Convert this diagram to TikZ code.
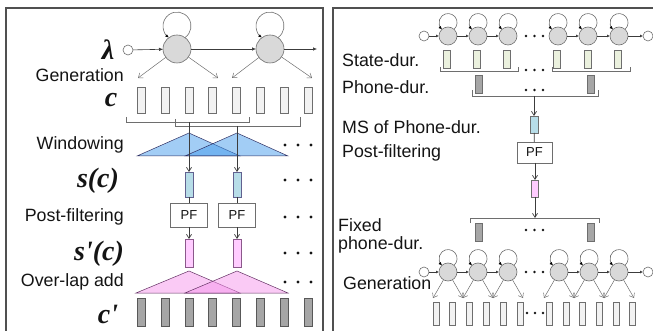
\documentclass[tikz,border=0pt]{standalone}
\usepackage{fontspec}
\setmainfont{Liberation Sans}
\newfontfamily\mathserif{Liberation Serif}
\usetikzlibrary{arrows.meta}

\definecolor{frm}{RGB}{80,80,80}
\definecolor{ln}{RGB}{60,60,60}
\definecolor{txt}{RGB}{20,20,20}
\definecolor{stfill}{RGB}{217,217,217}
\definecolor{stdraw}{RGB}{110,110,110}
\definecolor{lightbox}{RGB}{242,242,242}
\definecolor{darkbox}{RGB}{166,166,166}
\definecolor{bluebox}{RGB}{183,221,232}
\definecolor{pinkbox}{RGB}{255,204,255}
\definecolor{durbox}{RGB}{235,241,222}
\definecolor{triblue}{RGB}{70,155,235}
\definecolor{tripink}{RGB}{245,150,235}

\newcommand\lblfont{\fontsize{17.8}{20}\selectfont}
\newcommand\mlblfont{\fontsize{28}{30}\mathserif\bfseries\itshape}
% self-transition loop on top of a state node: node, loop radius, border angle
\newcommand\hmmloop[3]{\draw[loopln] (#1.#3) arc[start angle=#3, end angle={-180-#3}, radius=#2];}
% three dots in a row: x, y, spacing, radius
\newcommand\dotrow[4]{\foreach \k in {0,1,2} \fill[txt] ({#1+#3*\k},#2) circle[radius=#4];}

\begin{document}
\begin{tikzpicture}[x=1pt,y=-1pt,
  lbl/.style={font=\lblfont,inner sep=0pt,text=txt},
  mlbl/.style={font=\mlblfont,inner sep=0pt,text=txt,anchor=base},
  bigstate/.style={circle,draw=stdraw,fill=stfill,line width=0.6pt,minimum size=28pt,inner sep=0pt,outer sep=0pt},
  smstate/.style={bigstate,minimum size=18pt},
  endstate/.style={circle,draw=stdraw,fill=white,line width=0.6pt,minimum size=10pt,inner sep=0pt,outer sep=0pt},
  vec/.style={rectangle,draw=stdraw,line width=0.6pt,inner sep=0pt,outer sep=0pt},
  lightvec/.style={vec,fill=lightbox,minimum width=8pt,minimum height=26pt},
  darkvec/.style={vec,fill=darkbox,draw=stdraw!80!black,minimum width=8pt,minimum height=28pt},
  bluevec/.style={vec,fill=bluebox,draw=stdraw!70!blue!60!gray,minimum width=8pt,minimum height=25pt},
  pinkvec/.style={vec,fill=pinkbox,draw=stdraw!80!magenta,minimum width=8pt,minimum height=28pt},
  pfbox/.style={rectangle,draw=stdraw,fill=white,line width=0.6pt,inner sep=0pt,outer sep=0pt,
    minimum width=37pt,minimum height=24pt,font=\fontsize{13}{13}\selectfont,text=txt},
  harr/.style={ln,line width=0.6pt,-{Latex[length=4pt,width=3.5pt]}},
  sharr/.style={ln,line width=0.6pt,-{Latex[length=3pt,width=3pt]}},
  loopln/.style={stdraw,line width=0.6pt,-{Latex[length=3.5pt,width=3pt,color=black]}},
  oarr/.style={stdraw,line width=0.5pt,-{Straight Barb[length=4pt,width=6pt]}},
  varr/.style={ln,line width=0.7pt,-{Straight Barb[length=4pt,width=5pt]}},
  brk/.style={stdraw,line width=0.6pt},
  triB/.style={draw=ln!80!blue,line width=0.5pt,fill=triblue,fill opacity=0.5},
  triP/.style={draw=ln!80!magenta,line width=0.5pt,fill=tripink,fill opacity=0.5},
  frame/.style={frm,line width=1.2pt}
]
\clip (0,0) rectangle (653,331);
\useasboundingbox (0,0) rectangle (653,331);

% panel frames
\draw[frame] (6,345) -- (6,8) -- (323,8) -- (323,345);
\draw[frame] (333,345) -- (333,8) -- (665,8);

% ===== left panel: frame-wise generation with windowing =====
\node[endstate] (L0) at (128,50) {};
\node[bigstate] (L1) at (177,49) {};
\node[bigstate] (L2) at (270,49) {};
\coordinate (Lout) at (317,49);
\draw[harr] (L0) -- (L1);
\draw[harr] (L1) -- (L2);
\draw[harr] (L2) -- (Lout);
\hmmloop{L1}{14}{55}
\hmmloop{L2}{14}{55}
\coordinate (e1) at (138,78);
\coordinate (e2) at (218,78);
\coordinate (e3) at (232,78);
\coordinate (e4) at (312,78);
\draw[oarr] (L1) -- (e1);
\draw[oarr] (L1) -- (e2);
\draw[oarr] (L2) -- (e3);
\draw[oarr] (L2) -- (e4);

\node[mlbl] (lam) at (108,60) {λ};
\node[lbl,anchor=east] (gen) at (124,75) {Generation};
\node[mlbl] (cc) at (111,107) {c};
\foreach \i in {0,...,7} \node[lightvec] (c\i) at ({141+23.9*\i},100) {};

% analysis windows
\draw[brk] (126,117) -- (126,122) -- (249,122) -- (249,117);
\draw[brk] (175,119) -- (175,126) -- (300,126) -- (300,117);
\coordinate (w1) at (189,122);
\coordinate (w2) at (237,126);
\draw[triB] (189,133) -- (137,156) -- (240,156) -- cycle;
\draw[triB] (237,133) -- (185,156) -- (288,156) -- cycle;
\node[lbl,anchor=east] (win) at (124,145) {Windowing};
\dotrow{285}{145}{13}{1.7}

\node[bluevec] (S1) at (189,184.5) {};
\node[bluevec] (S2) at (237,184.5) {};
\draw[varr] (w1) -- (S1.north);
\draw[varr] (w2) -- (S2.north);
\node[mlbl] (sc) at (98,188) {s(c)};
\dotrow{285}{180}{13}{1.7}

\node[pfbox] (PF1) at (189,215) {PF};
\node[pfbox] (PF2) at (237,215) {PF};
\draw[ln,line width=0.7pt] (S1) -- (PF1);
\draw[ln,line width=0.7pt] (S2) -- (PF2);
\node[lbl,anchor=east] (pfl) at (124,217) {Post-filtering};
\dotrow{285}{217}{13}{1.7}

\node[pinkvec] (P1) at (189,253) {};
\node[pinkvec] (P2) at (237,253) {};
\draw[varr] (PF1) -- (P1);
\draw[varr] (PF2) -- (P2);
\node[mlbl] (spc) at (99,260) {s'(c)};
\dotrow{285}{253}{13}{1.7}

% overlap-add
\draw[triP] (189,271) -- (136,293) -- (240,293) -- cycle;
\draw[triP] (237,271) -- (185,293) -- (288,293) -- cycle;
\node[lbl,anchor=east] (ola) at (124,282) {Over-lap add};
\dotrow{285}{282}{13}{1.7}

\node[mlbl] (cpr) at (108,323) {c'};
\foreach \i in {0,...,7} \node[darkvec] (d\i) at ({141+23.9*\i},312) {};

% ===== right panel: duration modification =====
\node[endstate] (R0) at (424,36) {};
\foreach \n/\x in {1/448,2/478,3/508,4/558,5/588,6/619} \node[smstate] (R\n) at (\x,36) {};
\node[endstate] (R7) at (648,36) {};
\draw[sharr] (R0) -- (R1);
\draw[sharr] (R1) -- (R2);
\draw[sharr] (R2) -- (R3);
\draw[sharr] (R4) -- (R5);
\draw[sharr] (R5) -- (R6);
\draw[sharr] (R6) -- (R7);
\foreach \n in {1,...,6} {\hmmloop{R\n}{9}{48.6}}
\dotrow{526}{36}{8.5}{1.4}

\node[lbl,anchor=west] (sdur) at (342,60) {State-dur.};
\foreach \n/\x in {1/447,2/477,3/507,4/557,5/588,6/618}
  \node[vec,fill=durbox,minimum width=7pt,minimum height=18pt] (Q\n) at (\x,59) {};
\draw[brk] (440,67) -- (440,71) -- (518,71) -- (518,67);
\draw[brk] (552,67) -- (552,71) -- (630,71) -- (630,67);
\dotrow{526}{70}{8.5}{1.4}

\node[lbl,anchor=west] (pdur) at (342,87) {Phone-dur.};
\node[vec,fill=darkbox,minimum width=7pt,minimum height=18pt] (H1) at (479,84) {};
\node[vec,fill=darkbox,minimum width=7pt,minimum height=18pt] (H2) at (591,84) {};
\dotrow{526}{90}{8.5}{1.4}
\draw[brk] (472,90) -- (472,96) -- (598,96) -- (598,90);
\coordinate (hb) at (534,96);

\node[lbl,anchor=west] (msl) at (342,127) {MS of Phone-dur.};
\node[vec,fill=bluebox,minimum width=8pt,minimum height=17pt] (MS) at (534,124.5) {};
\draw[varr] (hb) -- (MS.north);
\node[lbl,anchor=west] (pfr) at (342,153) {Post-filtering};
\node[pfbox,minimum width=35pt,minimum height=21pt] (PFr) at (534.5,152.5) {PF};
\draw[ln,line width=0.7pt] (MS) -- (PFr);
\node[vec,fill=pinkbox,minimum width=7pt,minimum height=17pt] (Pr) at (535,188.5) {};
\draw[varr] (PFr.south -| Pr) -- (Pr.north);
\coordinate (fb) at (535,218);
\draw[varr] (Pr) -- (fb);
\draw[brk] (470,223) -- (470,218) -- (599,218) -- (599,223);

\node[lbl,anchor=west] (fx1) at (338,225) {Fixed};
\node[lbl,anchor=west] (fx2) at (338,245) {phone-dur.};
\node[vec,fill=darkbox,minimum width=7pt,minimum height=18pt] (F1) at (479,232) {};
\node[vec,fill=darkbox,minimum width=7pt,minimum height=18pt] (F2) at (591,232) {};
\dotrow{526}{230}{8.5}{1.4}

% generation with the fixed durations
\node[endstate] (B0) at (424,272) {};
\foreach \n/\x in {1/448,2/478,3/508,4/559,5/589,6/619} {
  \node[smstate] (B\n) at (\x,272) {};
  \coordinate (bl\n) at ({\x-15},298);
  \coordinate (br\n) at ({\x+15},298);
}
\node[endstate] (B7) at (648,272) {};
\draw[sharr] (B0) -- (B1);
\draw[sharr] (B1) -- (B2);
\draw[sharr] (B2) -- (B3);
\draw[sharr] (B4) -- (B5);
\draw[sharr] (B5) -- (B6);
\draw[sharr] (B6) -- (B7);
\foreach \n in {1,...,6} {
  \hmmloop{B\n}{9}{48.6}
  \draw[oarr] (B\n) -- (bl\n);
  \draw[oarr] (B\n) -- (br\n);
}
\dotrow{526}{272}{8.5}{1.4}
\node[lbl,anchor=west] (gnr) at (343,283) {Generation};

\foreach \n/\x in {1/436,2/452.5,3/469.5,4/486,5/503.5,6/520,7/549.5,8/566,9/582.5,10/599.5,11/616,12/632.5}
  \node[vec,fill=lightbox,minimum width=6pt,minimum height=23pt] (G\n) at (\x,313.5) {};
\dotrow{527}{313}{8}{1.4}
\end{tikzpicture}
\end{document}
